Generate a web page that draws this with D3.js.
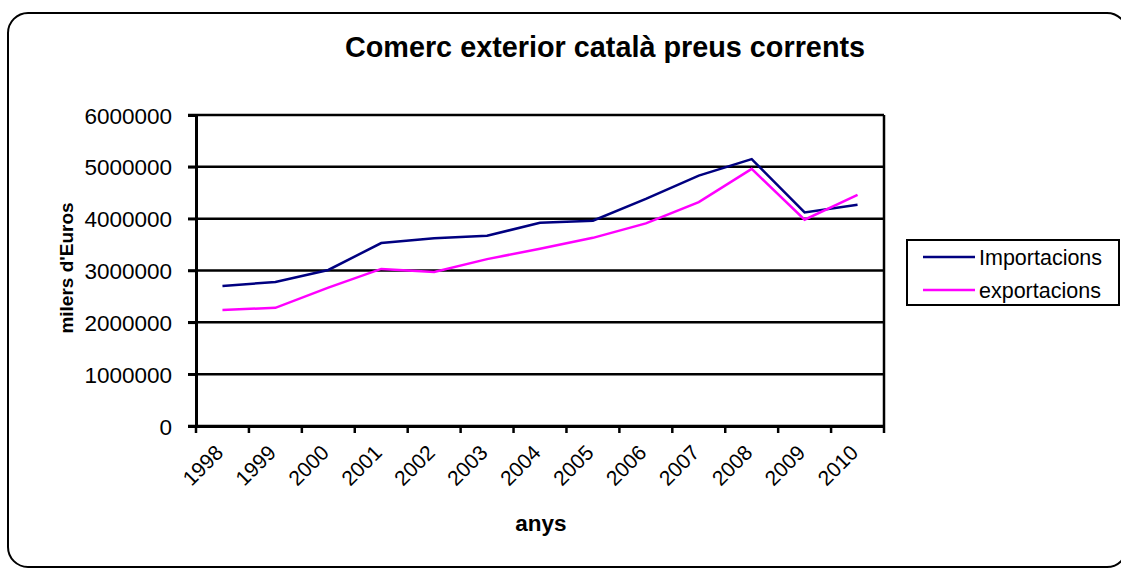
<!DOCTYPE html>
<html>
<head>
<meta charset="utf-8">
<script src="https://cdn.jsdelivr.net/npm/d3@7"></script>
<style>
    body { margin: 0; background: #fff; overflow: hidden; }
    svg { display: block; font-family: Arial, "Liberation Sans", sans-serif; }
</style>
</head>
<body>
<div id="chart"></div>
<script>
const years = ["1998", "1999", "2000", "2001", "2002", "2003", "2004",
    "2005", "2006", "2007", "2008", "2009", "2010"];
const importacions = [2700000, 2780000, 3010000, 3530000, 3620000, 3670000,
    3920000, 3960000, 4380000, 4830000, 5150000, 4120000, 4270000];
const exportacions = [2240000, 2280000, 2670000, 3030000, 2970000, 3220000,
    3420000, 3630000, 3910000, 4320000, 4960000, 3980000, 4460000];
const yTicks = [0, 1000000, 2000000, 3000000, 4000000, 5000000, 6000000];
const seriesNames = ["Importacions", "exportacions"];

const width = 1121;
const height = 571;
const plot = { left: 196, top: 115, right: 884, bottom: 426 };

const svg = d3.select("#chart")
    .append("svg")
    .attr("width", width)
    .attr("height", height);

// outer rounded frame (its right edge runs past the picture)
svg.append("rect")
    .attr("x", 8)
    .attr("y", 13)
    .attr("width", 1119)
    .attr("height", 554)
    .attr("rx", 20)
    .attr("fill", "#fff")
    .attr("stroke", "#000")
    .attr("stroke-width", 2);

svg.append("text")
    .attr("x", 605)
    .attr("y", 57)
    .attr("text-anchor", "middle")
    .style("font-size", "28.8px")
    .style("font-weight", "bold")
    .text("Comerc exterior català preus corrents");

const xScale = d3.scaleBand()
    .domain(years)
    .range([plot.left, plot.right]);
const yScale = d3.scaleLinear()
    .domain([0, 6000000])
    .range([plot.bottom, plot.top]);

// gridlines
svg.append("g")
    .selectAll("line")
    .data(yTicks)
    .join("line")
    .attr("x1", plot.left - 8)
    .attr("x2", plot.right)
    .attr("y1", (d) => yScale(d))
    .attr("y2", (d) => yScale(d))
    .attr("stroke", "#000")
    .attr("stroke-width", 2.5);

// right border of the plot area
svg.append("line")
    .attr("x1", plot.right)
    .attr("x2", plot.right)
    .attr("y1", plot.top)
    .attr("y2", plot.bottom)
    .attr("stroke", "#000")
    .attr("stroke-width", 2.5);

// y axis
const yAxis = svg.append("g")
    .attr("transform", `translate(${plot.left}, 0)`)
    .call(d3.axisLeft(yScale).tickValues(yTicks).tickFormat(d3.format("d"))
        .tickSize(8).tickPadding(16));
yAxis.select(".domain").attr("stroke-width", 3);
yAxis.selectAll(".tick line").attr("stroke-width", 2.5);
yAxis.selectAll("text")
    .style("font-size", "22.5px")
    .attr("dy", "0.36em")
    .attr("fill", "#000");

// x axis
const xAxis = svg.append("g")
    .attr("transform", `translate(0, ${plot.bottom})`)
    .call(d3.axisBottom(xScale).tickSize(0).tickSizeOuter(0));
xAxis.select(".domain").attr("stroke-width", 3);
xAxis.selectAll(".tick text")
    .style("font-size", "21px")
    .attr("fill", "#000")
    .attr("text-anchor", "end")
    .attr("dy", null)
    .attr("y", 0)
    .attr("transform", "translate(2, 28) rotate(-45)");

// x tick marks on category boundaries
svg.append("g")
    .selectAll("line")
    .data(years.concat(["end"]))
    .join("line")
    .attr("x1", (d, i) => plot.left + i * xScale.step())
    .attr("x2", (d, i) => plot.left + i * xScale.step())
    .attr("y1", plot.bottom)
    .attr("y2", plot.bottom + 7)
    .attr("stroke", "#000")
    .attr("stroke-width", 2.5);

// axis titles
svg.append("text")
    .attr("transform", `translate(73, 268) rotate(-90)`)
    .attr("text-anchor", "middle")
    .style("font-size", "19px")
    .style("font-weight", "bold")
    .text("milers d'Euros");

svg.append("text")
    .attr("x", 541)
    .attr("y", 531)
    .attr("text-anchor", "middle")
    .style("font-size", "22.5px")
    .style("font-weight", "bold")
    .text("anys");

const color = d3.scaleOrdinal()
    .domain(seriesNames)
    .range(["#000080", "#ff00ff"]);

const line = d3.line()
    .x((d, i) => xScale(years[i]) + xScale.bandwidth() / 2)
    .y((d) => yScale(d));

svg.append("g")
    .selectAll("path")
    .data([importacions, exportacions])
    .join("path")
    .attr("d", line)
    .attr("fill", "none")
    .attr("stroke", (d, i) => color(seriesNames[i]))
    .attr("stroke-width", 2.5);

// legend
const legend = svg.append("g");
legend.append("rect")
    .attr("x", 907)
    .attr("y", 240)
    .attr("width", 212)
    .attr("height", 65)
    .attr("fill", "#fff")
    .attr("stroke", "#000")
    .attr("stroke-width", 2);

const legendItems = legend.selectAll(".item")
    .data(seriesNames)
    .join("g")
    .attr("class", "item")
    .attr("transform", (d, i) => `translate(923, ${257 + i * 33})`);
legendItems.append("line")
    .attr("x1", 0)
    .attr("x2", 52)
    .attr("stroke", (d) => color(d))
    .attr("stroke-width", 2.5);
legendItems.append("text")
    .attr("x", 56)
    .attr("y", 8)
    .style("font-size", "21.5px")
    .text((d) => d);
</script>
</body>
</html>
